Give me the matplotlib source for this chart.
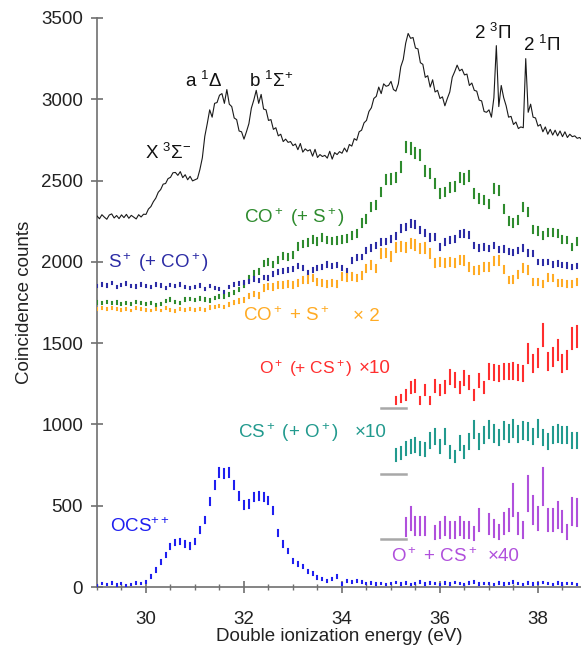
import numpy as np
import matplotlib
matplotlib.use("Agg")
import matplotlib.pyplot as plt
from matplotlib.ticker import MultipleLocator

plt.rcParams['font.family'] = ['Liberation Sans', 'DejaVu Sans']
plt.rcParams['mathtext.fontset'] = 'custom'
plt.rcParams['mathtext.rm'] = 'Liberation Sans'
plt.rcParams['mathtext.it'] = 'Liberation Sans:italic'
plt.rcParams['mathtext.bf'] = 'Liberation Sans:bold'

# ---------------- data ----------------
# total (all coincidences) spectrum, 0.05 eV step from 29.00 eV
total_energy = np.round(29.0 + 0.05 * np.arange(199), 2)
total_counts = [
    2282, 2265, 2290, 2275, 2262, 2288, 2295, 2270, 2285, 2266,
    2289, 2272, 2292, 2268, 2286, 2275, 2264, 2290, 2276, 2293,
    2292, 2325, 2340, 2370, 2392, 2428, 2445, 2478, 2482, 2512,
    2520, 2548, 2550, 2532, 2555, 2518, 2536, 2505, 2526, 2498,
    2505, 2512, 2568, 2640, 2772, 2850, 2935, 2890, 2975, 2980,
    3025, 3035, 2975, 3060, 2970, 2955, 2885, 2875, 2805, 2800,
    2755, 2800, 2850, 2945, 2995, 3055, 2975, 3030, 2940, 2935,
    2870, 2875, 2815, 2825, 2775, 2785, 2740, 2755, 2735, 2740,
    2715, 2725, 2690, 2728, 2675, 2695, 2682, 2690, 2650, 2692,
    2642, 2660, 2648, 2655, 2638, 2680, 2632, 2672, 2660, 2678,
    2668, 2700, 2676, 2722, 2712, 2758, 2748, 2800, 2810, 2855,
    2870, 2925, 2948, 3005, 3018, 3075, 3035, 3095, 3080, 3085,
    3110, 3060, 3050, 3095, 3200, 3245, 3345, 3405, 3375, 3380,
    3315, 3310, 3225, 3215, 3135, 3145, 3075, 3120, 3045, 3055,
    3005, 3015, 2960, 3005, 3045, 3135, 3170, 3210, 3175, 3185,
    3150, 3155, 3085, 3100, 3055, 3050, 2995, 2990, 2925, 2920,
    2935, 2890, 3010, 3330, 2955, 3085, 3010, 2960, 2890, 2895,
    2845, 2860, 2820, 2830, 2825, 3250, 2920, 2970, 2890, 2885,
    2835, 2845, 2800, 2830, 2785, 2815, 2780, 2810, 2775, 2805,
    2770, 2800, 2765, 2785, 2770, 2775, 2760, 2765, 2750,
]

# binned partial spectra, 0.1 eV bins from 29.0 eV
bin_energy = np.round(29.0 + 0.1 * np.arange(100), 1)

co_plus = [  # CO+ (+S+)
    1750, 1748, 1752, 1745, 1750, 1742, 1748, 1740, 1752, 1746,
    1738, 1745, 1735, 1742, 1758, 1770, 1752, 1745, 1768, 1772,
    1765, 1775, 1770, 1762, 1778, 1788, 1785, 1800, 1812, 1830,
    1860, 1900, 1930, 1940, 1990, 2000, 1985, 2010, 2036, 2030,
    2040, 2095, 2110, 2118, 2140, 2125, 2150, 2135, 2128, 2130,
    2140, 2145, 2165, 2175, 2240, 2262, 2335, 2350, 2430, 2505,
    2510, 2520, 2585, 2706, 2698, 2670, 2660, 2560, 2545, 2483,
    2422, 2430, 2455, 2462, 2520, 2510, 2528, 2422, 2390, 2380,
    2356, 2450, 2440, 2323, 2250, 2240, 2258, 2335, 2304, 2200,
    2190, 2165, 2178, 2180, 2176, 2140, 2135, 2093, 2124, 2130,
]
s_plus = [  # S+ (+CO+)
    1850, 1862, 1855, 1870, 1845, 1858, 1866, 1850, 1848, 1860,
    1852, 1845, 1862, 1855, 1840, 1858, 1850, 1862, 1843, 1838,
    1845, 1855, 1832, 1850, 1840, 1835, 1815, 1845, 1860, 1868,
    1872, 1880, 1895, 1885, 1905, 1900, 1925, 1940, 1945, 1950,
    1955, 1975, 1960, 1930, 1950, 1962, 1970, 1985, 1975, 1980,
    1960, 1945, 2010, 2025, 2030, 2070, 2085, 2100, 2120, 2125,
    2140, 2160, 2205, 2215, 2235, 2230, 2196, 2176, 2150, 2155,
    2093, 2124, 2135, 2140, 2170, 2175, 2165, 2100, 2085, 2092,
    2082, 2100, 2075, 2080, 2062, 2058, 2068, 2085, 2055, 2050,
    2000, 1995, 1998, 1985, 1990, 1982, 1978, 1970, 1975, 1968,
]
co_s_pair = [  # CO+ + S+ (x2)
    1712, 1715, 1708, 1714, 1710, 1706, 1712, 1700, 1716, 1709,
    1705, 1700, 1710, 1702, 1715, 1705, 1698, 1710, 1706, 1712,
    1703, 1710, 1706, 1718, 1722, 1728, 1722, 1738, 1750, 1758,
    1765, 1790, 1802, 1795, 1840, 1848, 1845, 1860, 1855, 1862,
    1858, 1870, 1888, 1892, 1900, 1875, 1868, 1862, 1870, 1866,
    1910, 1905, 1912, 1900, 1915, 1960, 1980, 1960, 2050, 2055,
    2032, 2090, 2095, 2088, 2114, 2104, 2080, 2085, 2052, 1995,
    2000, 1995, 1998, 1992, 2011, 2008, 1970, 1946, 1950, 1970,
    1968, 2005, 2008, 1954, 1888, 1890, 1925, 1964, 1950, 1878,
    1875, 1864, 1905, 1900, 1872, 1870, 1864, 1862, 1878, 1870,
]
ocs_dication = [  # OCS++
    10, 20, 15, 25, 12, 20, 8, 15, 25, 20,
    33, 63, 105, 156, 197, 248, 273, 279, 264, 252,
    279, 351, 412, 525, 627, 703, 699, 703, 627, 560,
    504, 511, 555, 560, 552, 531, 469, 334, 264, 221,
    160, 141, 125, 94, 84, 60, 47, 35, 47, 63,
    18, 35, 30, 38, 30, 20, 25, 18, 22, 15,
    20, 28, 18, 24, 15, 22, 30, 18, 25, 20,
    15, 24, 18, 28, 20, 16, 25, 30, 18, 22,
    20, 15, 26, 18, 22, 30, 20, 16, 24, 18,
    22, 28, 20, 15, 25, 18, 22, 20, 16, 24,
]

# scaled weak channels, 0.1 eV bins from 35.1 eV
weak_energy = np.round(35.1 + 0.1 * np.arange(38), 1)
o_plus = [  # O+ (+CS+) x10
    1150, 1160, 1181, 1228, 1236, 1150, 1212, 1150, 1236, 1212,
    1232, 1294, 1273, 1228, 1284, 1257, 1181, 1269, 1228, 1324,
    1318, 1314, 1324, 1324, 1329, 1318, 1314, 1437, 1376, 1407,
    1550, 1386, 1417, 1458, 1376, 1396, 1530, 1540,
]
cs_plus = [  # CS+ (+O+) x10
    812, 826, 853, 863, 873, 853, 847, 900, 925, 863,
    925, 832, 802, 884, 832, 894, 966, 894, 935, 966,
    945, 921, 962, 945, 976, 941, 962, 955, 925, 976,
    921, 894, 933, 945, 933, 933, 900, 900,
]
# O+ + CS+ x40, 0.1 eV bins from 35.3 eV (NaN = empty bin)
pair_energy = np.round(35.3 + 0.1 * np.arange(36), 1)
o_cs_pair = [
    371, 423, 375, 375, 375, np.nan, 334, 351, 375, 351,
    351, 375, 351, 351, 330, 412, np.nan, 388, 361, 340,
    392, 412, 535, 392, 351, 576, 474, 423, 617, 412,
    412, 443, 402, 340, 463, 460,
]

# vertical offsets (zero lines) and multipliers of the scaled channels
offsets = {'co': 1700, 's': 1800, 'pair2': 1690, 'o': 1103, 'cs': 693, 'ocs40': 293, 'ocs': 0}
scales = {'co': 1, 's': 1, 'pair2': 2, 'o': 10, 'cs': 10, 'ocs40': 40, 'ocs': 1}

x_ticks = [30, 32, 34, 36, 38]
y_ticks = [0, 500, 1000, 1500, 2000, 2500, 3000, 3500]

# ---------------- plot ----------------
fig = plt.figure(figsize=(5.81, 6.51), dpi=100)
ax = fig.add_axes([97 / 581, 64 / 651, 484 / 581, 569 / 651])

ax.plot(total_energy, total_counts, color='#1a1a1a', lw=0.8, zorder=3)

def bars(x, v, key, color):
    x = np.asarray(x, float)
    v = np.asarray(v, float)
    m = ~np.isnan(v)
    x, v = x[m], v[m]
    raw = np.clip((v - offsets[key]) / scales[key], 0.5, None)
    err = scales[key] * np.sqrt(raw)
    lc = ax.vlines(x, v - err, v + err, colors=color, lw=1.5, zorder=4)
    lc.set_capstyle('projecting')

C_GREEN = '#2e8b2e'
C_SBLUE = '#2c2ca5'
C_ORANGE = '#ffab24'
C_RED = '#ff2e2e'
C_TEAL = '#229a8e'
C_PURPLE = '#b050dc'
C_OCS = '#1f1ff0'
C_GRAY = '#a8a8a8'

bars(bin_energy, co_plus, 'co', C_GREEN)
bars(bin_energy, s_plus, 's', C_SBLUE)
bars(bin_energy, co_s_pair, 'pair2', C_ORANGE)
bars(bin_energy, ocs_dication, 'ocs', C_OCS)
bars(weak_energy, o_plus, 'o', C_RED)
bars(weak_energy, cs_plus, 'cs', C_TEAL)
bars(pair_energy, o_cs_pair, 'ocs40', C_PURPLE)

for k in ('o', 'cs', 'ocs40'):
    ax.plot([34.8, 35.3], [offsets[k], offsets[k]], color=C_GRAY, lw=1.8, zorder=2)

ax.set_xlim(29, 38.878)
ax.set_ylim(0, 3500)
for s in ('top', 'right'):
    ax.spines[s].set_visible(False)
for s in ('left', 'bottom'):
    ax.spines[s].set_color('#707070')
    ax.spines[s].set_linewidth(1.2)

ax.set_xticks(x_ticks)
ax.set_yticks(y_ticks)
ax.xaxis.set_minor_locator(MultipleLocator(0.5))
ax.tick_params(axis='both', which='major', direction='inout', length=8,
               width=1.2, color='#707070', labelsize=13.5, labelcolor='#222222')
ax.tick_params(axis='x', which='major', pad=13)
ax.tick_params(axis='y', which='major', pad=6)
ax.tick_params(axis='x', which='minor', direction='inout', length=4,
               width=1.0, color='#707070')

ax.set_xlabel('Double ionization energy (eV)', fontsize=13.5, color='#222222', labelpad=0)
ax.set_ylabel('Coincidence counts', fontsize=13.5, color='#222222', labelpad=6)

t = dict(fontsize=13.5, va='center', ha='left', zorder=5)
ax.text(29.98, 2670, r'X $^3\Sigma^{-}$', color='#111111', **t)
ax.text(30.80, 3110, r'a $^1\Delta$', color='#111111', **t)
ax.text(32.10, 3110, r'b $^1\Sigma^{+}$', color='#111111', **t)
ax.text(36.70, 3406, r'2 $^3\Pi$', color='#111111', **t)
ax.text(37.70, 3334, r'2 $^1\Pi$', color='#111111', **t)

ax.text(32.0, 2270, r'CO$^+$ (+ S$^+$)', color=C_GREEN, **t)
ax.text(29.22, 1995, r'S$^+$ (+ CO$^+$)', color=C_SBLUE, **t)
ax.text(31.98, 1670, r'CO$^+$ + S$^+$', color=C_ORANGE, **t)
ax.text(34.23, 1665, '× 2', color=C_ORANGE, **t)
ax.text(32.30, 1347, r'O$^+$ (+ CS$^+$)', color=C_RED, fontsize=12.5, va='center', ha='left', zorder=5)
ax.text(34.35, 1347, '×10', color=C_RED, **t)
ax.text(31.88, 950, r'CS$^+$ (+ O$^+$)', color=C_TEAL, **t)
ax.text(34.25, 950, '×10', color=C_TEAL, **t)
ax.text(35.0, 186, r'O$^+$ + CS$^+$', color=C_PURPLE, **t)
ax.text(36.98, 186, '×40', color=C_PURPLE, **t)
ax.text(29.27, 371, r'OCS$^{++}$', color=C_OCS, **t)

fig.savefig('out.png', dpi=100)
